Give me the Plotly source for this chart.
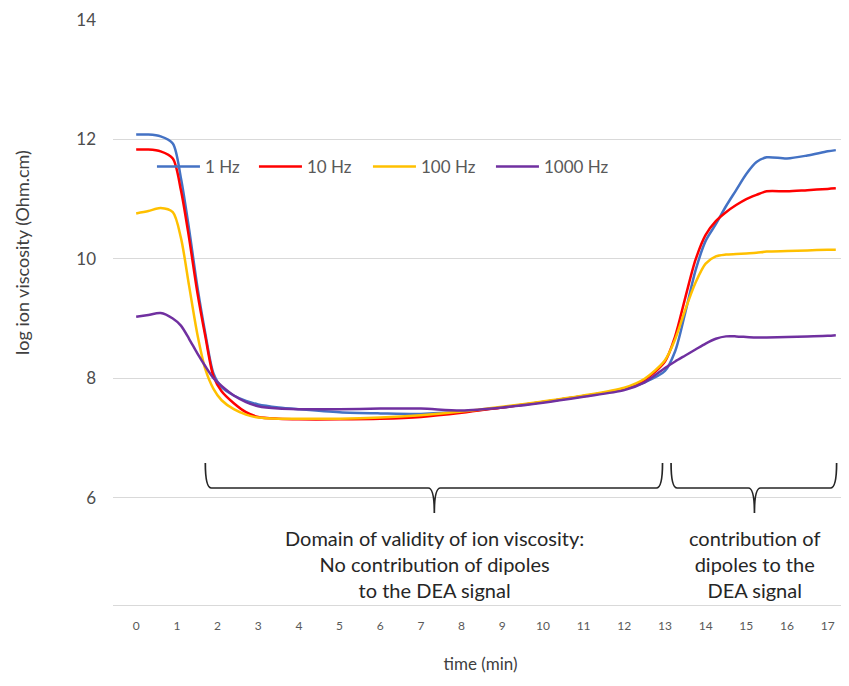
import plotly.graph_objects as go

# ---- data ----
time_min = [0, 0.3, 0.6, 0.9, 1.1, 1.3, 1.5, 1.7, 1.9, 2.1, 2.4, 2.7, 3.0, 3.5,
            4, 5, 6, 7, 8, 9, 10, 11, 12, 12.5, 13, 13.25, 13.5, 13.75, 14,
            14.25, 14.5, 14.75, 15, 15.25, 15.5, 16, 16.5, 17, 17.2]

hz_1 = [12.08, 12.08, 12.05, 11.93, 11.35, 10.5, 9.55, 8.75, 8.08, 7.85, 7.71, 7.62, 7.56, 7.51,
        7.48, 7.43, 7.41, 7.40, 7.44, 7.51, 7.60, 7.70, 7.82, 7.93, 8.12, 8.45, 9.1, 9.8, 10.3,
        10.58, 10.88, 11.15, 11.42, 11.62, 11.70, 11.68, 11.73, 11.80, 11.82]
hz_10 = [11.83, 11.83, 11.80, 11.68, 11.15, 10.35, 9.45, 8.7, 8.03, 7.78, 7.58, 7.43, 7.35, 7.32,
         7.31, 7.31, 7.32, 7.35, 7.42, 7.51, 7.60, 7.70, 7.82, 7.97, 8.28, 8.7, 9.35, 9.98, 10.4,
         10.63, 10.78, 10.9, 11.0, 11.07, 11.13, 11.13, 11.15, 11.17, 11.18]
hz_100 = [10.76, 10.80, 10.85, 10.78, 10.35, 9.55, 8.75, 8.15, 7.82, 7.63, 7.48, 7.39, 7.34, 7.32,
          7.32, 7.32, 7.34, 7.38, 7.44, 7.52, 7.61, 7.71, 7.84, 7.99, 8.3, 8.65, 9.15, 9.6, 9.92,
          10.04, 10.07, 10.08, 10.09, 10.1, 10.12, 10.13, 10.14, 10.15, 10.15]
hz_1000 = [9.03, 9.06, 9.09, 9.0, 8.88, 8.66, 8.42, 8.2, 8.0, 7.87, 7.71, 7.6, 7.53, 7.49,
           7.48, 7.48, 7.49, 7.49, 7.46, 7.51, 7.59, 7.69, 7.80, 7.93, 8.17, 8.28, 8.38, 8.48, 8.58,
           8.66, 8.70, 8.70, 8.69, 8.68, 8.68, 8.69, 8.70, 8.71, 8.72]

series_names = ["1 Hz", "10 Hz", "100 Hz", "1000 Hz"]
series_values = [hz_1, hz_10, hz_100, hz_1000]
series_colors = ["#4472C4", "#FF0000", "#FFC000", "#7030A0"]

x_ticks = list(range(0, 18))
y_ticks = [6, 8, 10, 12, 14]

# brace annotations: (start, tip, end) in minutes, and their captions
braces = [(1.70, 7.33, 12.94), (13.15, 15.2, 17.22)]
brace_texts = ["Domain of validity of ion viscosity:<br>No contribution of dipoles<br>to the DEA signal",
               "contribution of<br>dipoles to the<br>DEA signal"]

FONT = "Lato, 'Open Sans', sans-serif"

# page body has an 8px margin: figure is sized so the plot lands where the reference has it
W, H = 841, 678
ML, MT, PW, PH = 105, 12, 735, 585
legend_entry_widths = [44, 56, 65, 70]

fig = go.Figure()
for name, vals, col, lw in zip(series_names, series_values, series_colors, legend_entry_widths):
    fig.add_trace(go.Scatter(x=time_min, y=vals, name=name, mode="lines", legendwidth=lw,
                             line=dict(color=col, width=2.5, shape="spline", smoothing=0.8)))

# braces as path shapes in data coordinates
y_top, y_mid, y_tip = 6.58, 6.16, 5.74
c = 0.15
for (x0, xt, x1), txt in zip(braces, brace_texts):
    path = (f"M{x0},{y_top} Q{x0},{y_mid} {x0 + c},{y_mid} L{xt - c},{y_mid} "
            f"Q{xt},{y_mid} {xt},{y_tip} Q{xt},{y_mid} {xt + c},{y_mid} "
            f"L{x1 - c},{y_mid} Q{x1},{y_mid} {x1},{y_top}")
    fig.add_shape(type="path", path=path, xref="x", yref="y",
                  line=dict(color="#262626", width=1.7))
    fig.add_annotation(x=xt, y=4.89, xref="x", yref="y", text=txt, showarrow=False,
                       xanchor="center", yanchor="middle", align="center",
                       font=dict(family=FONT, size=20, color="#262626"))

# y-axis title as rotated annotation
fig.add_annotation(x=(14 - ML) / PW, y=(MT + PH - 245) / PH, xref="paper", yref="paper",
                   text="log ion viscosity (Ohm.cm)", textangle=-90, showarrow=False,
                   xanchor="center", yanchor="middle",
                   font=dict(family=FONT, size=18, color="#404040"))

fig.update_layout(
    width=W, height=H,
    margin=dict(l=ML, r=W - ML - PW, t=MT, b=H - MT - PH),
    paper_bgcolor="white", plot_bgcolor="white",
    font=dict(family=FONT, color="#595959"),
    showlegend=True,
    legend=dict(orientation="h", x=0.053, y=0.7487, xanchor="left", yanchor="middle",
                bgcolor="rgba(0,0,0,0)", itemwidth=43, entrywidthmode="pixels",
                font=dict(family=FONT, size=17, color="#595959")),
    xaxis=dict(range=[-0.57, 17.5], tickvals=x_ticks, ticktext=[str(v) for v in x_ticks],
               showgrid=False, zeroline=False, showline=True, linecolor="#d9d9d9", linewidth=1,
               ticks="", ticklabelstandoff=10,
               tickfont=dict(family=FONT, size=12, color="#595959"),
               title=dict(text="time (min)", standoff=25,
                          font=dict(family=FONT, size=17, color="#404040"))),
    yaxis=dict(range=[4.2, 14], tickvals=y_ticks, showgrid=True, gridcolor="#d9d9d9",
               gridwidth=1, zeroline=False, showline=False, ticks="", ticklabelstandoff=16,
               tickfont=dict(family=FONT, size=17, color="#4d4d4d")),
)

fig.write_html("out.html")
